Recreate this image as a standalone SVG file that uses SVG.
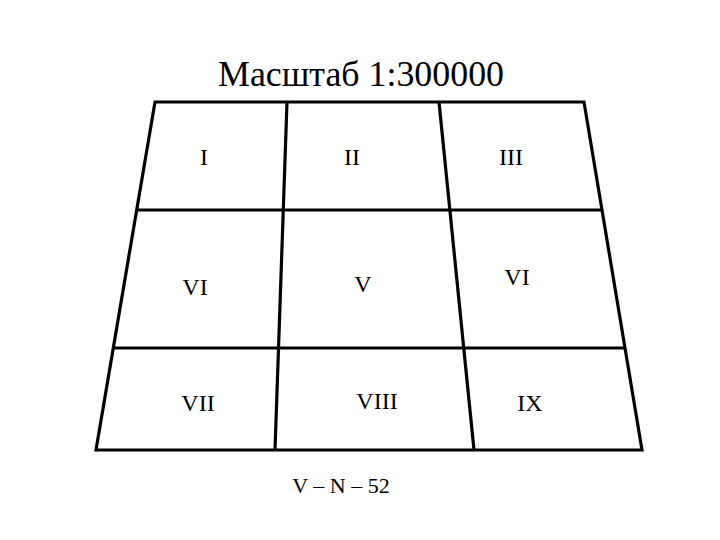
<svg xmlns="http://www.w3.org/2000/svg" width="720" height="540" viewBox="0 0 720 540">
<style>
.t{font-family:"Liberation Serif","Times New Roman",serif;fill:#000;text-anchor:middle}
.l{font-size:24px}
.e{stroke:#000;stroke-width:3.2;fill:none;stroke-linejoin:miter}
</style>
<rect width="720" height="540" fill="#fff"/>
<text class="t" x="361" y="86" font-size="36" textLength="286" lengthAdjust="spacingAndGlyphs">Масштаб 1:300000</text>
<g id="connectors">
<path class="e" d="M155,102 L584,102 L642,450 L96,450 Z"/>
<line class="e" x1="287" y1="102" x2="275" y2="450"/>
<line class="e" x1="439" y1="102" x2="474" y2="450"/>
<line class="e" x1="137" y1="210" x2="602" y2="210"/>
<line class="e" x1="114" y1="348" x2="624" y2="348"/>
</g>
<g id="n1"><text class="t l" x="204" y="165">I</text></g>
<g id="n2"><text class="t l" x="352" y="165">II</text></g>
<g id="n3"><text class="t l" x="511" y="165">III</text></g>
<g id="n4"><text class="t l" x="195" y="295">VI</text></g>
<g id="n5"><text class="t l" x="363" y="292">V</text></g>
<g id="n6"><text class="t l" x="517" y="285">VI</text></g>
<g id="n7"><text class="t l" x="198" y="411">VII</text></g>
<g id="n8"><text class="t l" x="377" y="409">VIII</text></g>
<g id="n9"><text class="t l" x="530" y="411">IX</text></g>
<text class="t" x="341" y="493" font-size="22">V – N – 52</text>
</svg>
